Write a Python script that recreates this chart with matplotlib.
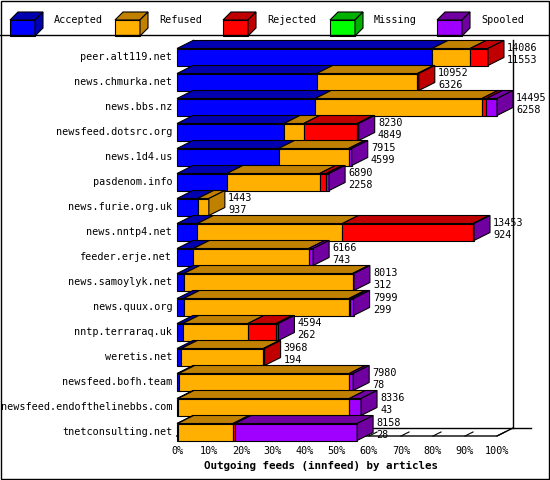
import matplotlib
matplotlib.use("Agg")
import matplotlib.pyplot as plt
from matplotlib.patches import Polygon, Rectangle
import numpy as np

hosts = ["peer.alt119.net", "news.chmurka.net", "news.bbs.nz", "newsfeed.dotsrc.org",
         "news.1d4.us", "pasdenom.info", "news.furie.org.uk", "news.nntp4.net",
         "feeder.erje.net", "news.samoylyk.net", "news.quux.org", "nntp.terraraq.uk",
         "weretis.net", "newsfeed.bofh.team", "newsfeed.endofthelinebbs.com", "tnetconsulting.net"]
offered  = [14086, 10952, 14495, 8230, 7915, 6890, 1443, 13453, 6166, 8013, 7999, 4594, 3968, 7980, 8336, 8158]
accepted = [11553, 6326, 6258, 4849, 4599, 2258, 937, 924, 743, 312, 299, 262, 194, 78, 43, 28]
refused  = [1725, 4566, 7552, 889, 3170, 4200, 506, 6570, 5223, 7640, 7490, 2950, 3720, 7722, 7763, 2510]
rejected = [808, 60, 200, 2420, 0, 300, 0, 5909, 0, 0, 60, 1280, 54, 0, 0, 90]
missing  = [0]*16
spooled  = [0, 0, 485, 72, 146, 132, 0, 50, 200, 61, 150, 102, 0, 180, 530, 5530]

series = ["Accepted", "Refused", "Rejected", "Missing", "Spooled"]
front = ["#0000ff", "#ffb000", "#ff0000", "#00ff00", "#a000ff"]
dark  = ["#0000b0", "#c08000", "#c00000", "#00b000", "#7000a0"]
ticks = list(range(0, 101, 10))

W, H = 550, 480
fig = plt.figure(figsize=(W/100, H/100), dpi=100)
mono = "DejaVu Sans Mono"
fs = 7.3

ov = fig.add_axes([0, 0, 1, 1])
ov.set_xlim(0, W); ov.set_ylim(H, 0); ov.axis("off")
ov.add_patch(Rectangle((0.5, 0.5), W-1.5, H-1.5, fill=False, ec="black", lw=1))
ov.plot([0, W], [35, 35], color="black", lw=1)
lx = [10, 115, 223, 330, 437]
for i, s in enumerate(series):
    x0, y0, w, h, d = lx[i], 12, 25, 16, 8
    ov.add_patch(Polygon([(x0, y0+d), (x0+w, y0+d), (x0+w, y0+d+h), (x0, y0+d+h)], fc=front[i], ec="black", lw=0.8))
    ov.add_patch(Polygon([(x0, y0+d), (x0+w, y0+d), (x0+w+d, y0), (x0+d, y0)], fc=dark[i], ec="black", lw=0.8))
    ov.add_patch(Polygon([(x0+w, y0+d), (x0+w, y0+d+h), (x0+w+d, y0+h), (x0+w+d, y0)], fc=dark[i], ec="black", lw=0.8))
    ov.text(x0+w+d+11, 20, s, fontsize=fs, family=mono, va="center")

ax = fig.add_axes([177/W, 1-445/H, 320/W, 405/H])
ax.set_xlim(0, 100)
ax.set_ylim((445-57)/25, (40-57)/25)
ax.axis("off")
dx, dy, hh = 5.0, 0.32, 0.34
mx = max(offered)
yfloor = (436-57)/25
ax.plot([5, 5], [(40-57)/25, yfloor-dy], color="black", lw=1, clip_on=False, zorder=0)
ax.plot([105, 105], [(40-57)/25, yfloor-dy], color="black", lw=1, clip_on=False, zorder=0)
ax.plot([5, 110.5], [yfloor-dy, yfloor-dy], color="black", lw=1, clip_on=False, zorder=0)
ax.plot([0, 100, 105], [yfloor, yfloor, yfloor-dy], color="black", lw=1, clip_on=False, zorder=0)
for t in ticks:
    ax.plot([t, t+dx*0.5], [yfloor, yfloor-dy*0.5], color="black", lw=0.8, clip_on=False, zorder=0)
    ax.text(t, yfloor+0.62, f"{t}%", fontsize=fs, family=mono, ha="center", va="center", clip_on=False)
ax.text(45, yfloor+1.2, "Outgoing feeds (innfeed) by articles", fontsize=fs+0.5, family=mono,
        weight="bold", ha="center", va="center")

data = np.array([accepted, refused, rejected, missing, spooled], dtype=float)
for i, h in enumerate(hosts):
    yt, yb = i-hh, i+hh
    vals = data[:, i] / mx * 100
    x = 0.0
    last = 0
    for k in range(5):
        if vals[k] <= 0: continue
        x1 = x + vals[k]
        ax.add_patch(Polygon([(x, yt), (x1, yt), (x1, yb), (x, yb)], fc=front[k], ec="black", lw=0.8, clip_on=False, zorder=2))
        ax.add_patch(Polygon([(x, yt), (x1, yt), (x1+dx, yt-dy), (x+dx, yt-dy)], fc=dark[k], ec="black", lw=0.8, clip_on=False, zorder=2))
        x = x1; last = k
    ax.add_patch(Polygon([(x, yt), (x, yb), (x+dx, yb-dy), (x+dx, yt-dy)], fc=dark[last], ec="black", lw=0.8, clip_on=False, zorder=2))
    ax.text(x+dx+1, i-0.35, str(offered[i]), fontsize=fs, family=mono, va="center", clip_on=False, zorder=3)
    ax.text(x+dx+1, i+0.12, str(accepted[i]), fontsize=fs, family=mono, va="center", clip_on=False, zorder=3)
    ax.text(-1.5, i, h, fontsize=fs, family=mono, ha="right", va="center", clip_on=False)

fig.savefig("out.png", dpi=100)
